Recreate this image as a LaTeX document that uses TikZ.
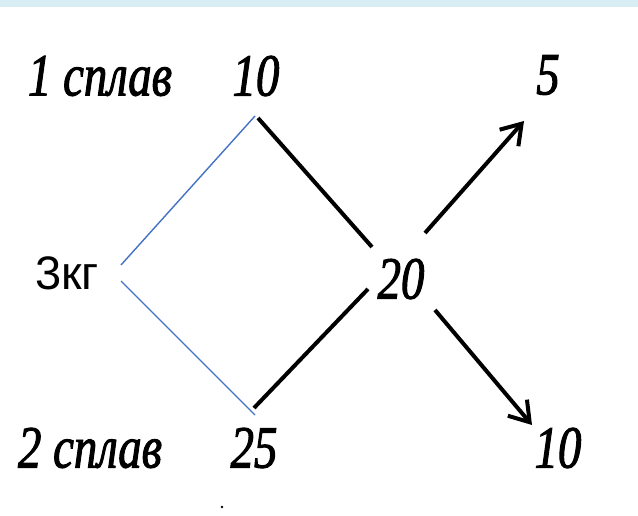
\documentclass[tikz,border=0pt]{standalone}
\usepackage{fontspec}
\setmainfont{Liberation Serif}
% narrow, heavy italic serif used for the handwritten-looking numbers
\newfontfamily\numfont{Liberation Serif}[FakeStretch=0.78,FakeBold=1.6]
\newfontfamily\kgfont{Liberation Sans}
\usetikzlibrary{arrows.meta}

\tikzset{
  num/.style={inner sep=0pt, font=\numfont\itshape\fontsize{60}{60}\selectfont},
  kglabel/.style={inner sep=0pt, font=\kgfont\fontsize{47}{47}\selectfont},
  mixline/.style={line width=1.4pt, color={rgb,255:red,68;green,114;blue,196}},
  pen/.style={draw=black, line width=4pt},
  penarrow/.style={pen, -{Straight Barb[length=19pt,width=25pt]}}
}

\begin{document}
\begin{tikzpicture}[x=1pt,y=-1pt]
  % page and top band
  \fill[white] (0,0) rectangle (638,516);
  \useasboundingbox (0,0) rectangle (638,516);
  \fill[color={rgb,255:red,216;green,236;blue,244}] (0,0) rectangle (638,7);

  % labels
  \node[num] (s1)  at (100,76)  {1 сплав};
  \node[num] (a10) at (256,76)  {10};
  \node[num] (b5)  at (548,75)  {5};
  \node[num] (c20) at (401,279) {20};
  \node[num] (s2)  at (90,448)  {2 сплав};
  \node[num] (a25) at (254,448) {25};
  \node[num] (b10) at (558,448) {10};
  \node[kglabel] (kg) at (67,273) {3кг};

  % line end points
  \coordinate (bt)  at (255,116);
  \coordinate (bl1) at (121,265);
  \coordinate (bl2) at (121,281);
  \coordinate (bb)  at (255,415);
  \coordinate (k1a) at (258,118);
  \coordinate (k1b) at (372,247);
  \coordinate (k2a) at (254,408);
  \coordinate (k2b) at (368,289);
  \coordinate (r1a) at (425,233);
  \coordinate (r1b) at (524,121);
  \coordinate (r2a) at (435,310);
  \coordinate (r2b) at (532,425);

  % blue wedge
  \draw[mixline] (bl1) -- (bt);
  \draw[mixline] (bl2) -- (bb);

  % black cross
  \draw[pen] (k1a) -- (k1b);
  \draw[pen] (k2a) -- (k2b);
  \draw[penarrow] (r1a) -- (r1b);
  \draw[penarrow] (r2a) -- (r2b);

  % small speck under the bottom row
  \fill[black] (222,507) circle (1.3);
\end{tikzpicture}
\end{document}
